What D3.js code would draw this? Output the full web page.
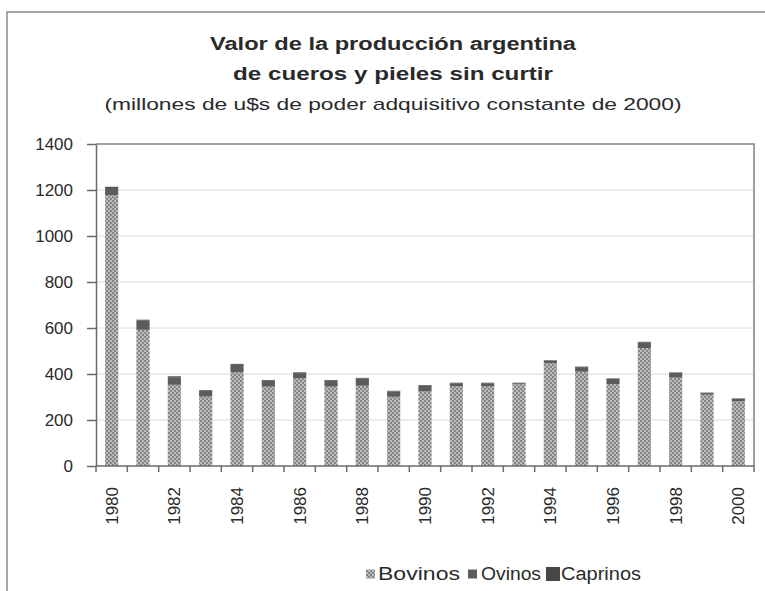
<!DOCTYPE html>
<html>
<head>
<meta charset="utf-8">
<script src="https://cdn.jsdelivr.net/npm/d3@7"></script>
<style>
  body { margin: 0; background: #fff; }
  svg { display: block; font-family: 'Liberation Sans', Arial, sans-serif; }
</style>
</head>
<body>
<div id="vis"></div>
<script>
var years = ['1980', '1981', '1982', '1983', '1984', '1985', '1986', '1987', '1988', '1989', '1990',
             '1991', '1992', '1993', '1994', '1995', '1996', '1997', '1998', '1999', '2000'];
var bovinos = [1178, 592, 353, 302, 407, 345, 381, 345, 349, 301, 324, 346, 346, 355, 447, 410, 356, 513, 384, 310, 281];
var ovinos = [31, 40, 33, 25, 33, 26, 23, 26, 31, 23, 25, 14, 14, 5, 11, 20, 23, 25, 21, 7, 11];
var caprinos = [5, 4, 4, 3, 4, 3, 3, 3, 3, 3, 3, 2, 2, 2, 2, 2, 2, 2, 2, 2, 2];
var seriesNames = ['Bovinos', 'Ovinos', 'Caprinos'];
var yTicks = [0, 200, 400, 600, 800, 1000, 1200, 1400];
var yearLabels = ['1980', '1982', '1984', '1986', '1988', '1990', '1992', '1994', '1996', '1998', '2000'];

function barChart() {
  var width = 765;
  var height = 591;
  var plot = { left: 96, right: 754, top: 144, bottom: 466 };
  var textColor = '#2a2a2a';

  var rows = years.map(function (y, i) {
    return { year: y, Bovinos: bovinos[i], Ovinos: ovinos[i], Caprinos: caprinos[i] };
  });

  var x = d3.scaleBand()
    .domain(years)
    .range([plot.left, plot.right])
    .paddingInner(0.58)
    .paddingOuter(0.29);

  var y = d3.scaleLinear()
    .domain([0, 1400])
    .range([plot.bottom, plot.top]);

  var fills = { Bovinos: 'url(#hatch)', Ovinos: '#5c5c5c', Caprinos: '#474747' };

  var svg = d3.select('#vis').append('svg')
    .attr('width', width)
    .attr('height', height);

  // checkered fill used by Excel for the first series
  var pat = svg.append('defs').append('pattern')
    .attr('id', 'hatch')
    .attr('width', 4)
    .attr('height', 4)
    .attr('patternUnits', 'userSpaceOnUse');
  pat.append('rect').attr('width', 4).attr('height', 4).attr('fill', '#bcbcbc');
  pat.append('rect').attr('width', 2).attr('height', 2).attr('fill', '#858585');
  pat.append('rect').attr('x', 2).attr('y', 2).attr('width', 2).attr('height', 2).attr('fill', '#858585');

  // outer frame (only top and left show)
  svg.append('rect')
    .attr('x', 7).attr('y', 12)
    .attr('width', 900).attr('height', 900)
    .attr('fill', 'none')
    .attr('stroke', '#8a8a8a')
    .attr('stroke-width', 1.5);

  var titles = [
    { text: 'Valor de la producción argentina', y: 50, w: 366, weight: 'bold', size: 18 },
    { text: 'de cueros y pieles sin curtir', y: 80, w: 320, weight: 'bold', size: 18 },
    { text: '(millones de u$s de poder adquisitivo constante de 2000)', y: 110, w: 577, weight: 'normal', size: 17 }
  ];
  svg.selectAll('.title')
    .data(titles)
    .enter().append('text')
    .attr('class', 'title')
    .attr('x', 393)
    .attr('y', function (d) { return d.y; })
    .attr('text-anchor', 'middle')
    .attr('font-size', function (d) { return d.size; })
    .attr('font-weight', function (d) { return d.weight; })
    .attr('textLength', function (d) { return d.w; })
    .attr('lengthAdjust', 'spacingAndGlyphs')
    .attr('fill', textColor)
    .text(function (d) { return d.text; });

  // gridlines
  svg.append('g')
    .selectAll('line')
    .data(yTicks.filter(function (d) { return d > 0 && d < 1400; }))
    .enter().append('line')
    .attr('x1', plot.left).attr('x2', plot.right)
    .attr('y1', function (d) { return y(d); })
    .attr('y2', function (d) { return y(d); })
    .attr('stroke', '#dadada')
    .attr('stroke-width', 1);

  // plot border top + right
  svg.append('path')
    .attr('d', 'M' + plot.left + ',' + y(1400) + 'H' + plot.right + 'V' + plot.bottom)
    .attr('fill', 'none')
    .attr('stroke', '#808080')
    .attr('stroke-width', 1.5);

  var stacked = d3.stack().keys(seriesNames)(rows);

  svg.append('g')
    .selectAll('g')
    .data(stacked)
    .enter().append('g')
    .attr('fill', function (d) { return fills[d.key]; })
    .selectAll('rect')
    .data(function (d) { return d; })
    .enter().append('rect')
    .attr('x', function (d) { return x(d.data.year); })
    .attr('width', x.bandwidth())
    .attr('y', function (d) { return y(d[1]); })
    .attr('height', function (d) { return y(d[0]) - y(d[1]); });

  // y axis
  var yAxis = svg.append('g')
    .attr('transform', 'translate(' + plot.left + ',0)')
    .call(d3.axisLeft(y).tickValues(yTicks).tickFormat(d3.format('d'))
      .tickSize(9).tickPadding(14).tickSizeOuter(0));
  yAxis.selectAll('line, path').attr('stroke', '#6a6a6a').attr('stroke-width', 1.5);
  yAxis.selectAll('text')
    .attr('font-size', 17)
    .attr('font-family', "'Liberation Sans', Arial, sans-serif")
    .attr('fill', textColor);

  // x axis: baseline, ticks between categories
  svg.append('line')
    .attr('x1', plot.left).attr('x2', plot.right)
    .attr('y1', plot.bottom).attr('y2', plot.bottom)
    .attr('stroke', '#6a6a6a')
    .attr('stroke-width', 1.5);

  var half = x.step() * x.paddingInner() / 2;
  var bounds = years.map(function (d) { return x(d) - half; }).concat([plot.right]);
  svg.append('g')
    .selectAll('line')
    .data(bounds)
    .enter().append('line')
    .attr('x1', function (d) { return d; })
    .attr('x2', function (d) { return d; })
    .attr('y1', plot.bottom)
    .attr('y2', plot.bottom + 6)
    .attr('stroke', '#6a6a6a')
    .attr('stroke-width', 1.5);

  svg.append('g')
    .selectAll('text')
    .data(yearLabels)
    .enter().append('text')
    .attr('transform', function (d) {
      return 'translate(' + (x(d) + x.bandwidth() / 2 + 6) + ',' + 487 + ') rotate(-90)';
    })
    .attr('text-anchor', 'end')
    .attr('font-size', 17)
    .attr('fill', textColor)
    .text(function (d) { return d; });

  // legend
  var legendItems = [
    { key: 'Bovinos', mx: 366, ms: 9, tx: 378, tw: 82 },
    { key: 'Ovinos', mx: 468, ms: 9, tx: 481, tw: 60 },
    { key: 'Caprinos', mx: 546, ms: 14, tx: 561, tw: 80 }
  ];
  var legend = svg.append('g');
  legend.selectAll('rect')
    .data(legendItems)
    .enter().append('rect')
    .attr('x', function (d) { return d.mx; })
    .attr('y', function (d) { return 574 - d.ms / 2; })
    .attr('width', function (d) { return d.ms; })
    .attr('height', function (d) { return d.ms; })
    .attr('fill', function (d) { return fills[d.key]; });
  legend.selectAll('text')
    .data(legendItems)
    .enter().append('text')
    .attr('x', function (d) { return d.tx; })
    .attr('y', 580)
    .attr('font-size', 18)
    .attr('textLength', function (d) { return d.tw; })
    .attr('lengthAdjust', 'spacingAndGlyphs')
    .attr('fill', textColor)
    .text(function (d) { return d.key; });
}

barChart();
</script>
</body>
</html>
